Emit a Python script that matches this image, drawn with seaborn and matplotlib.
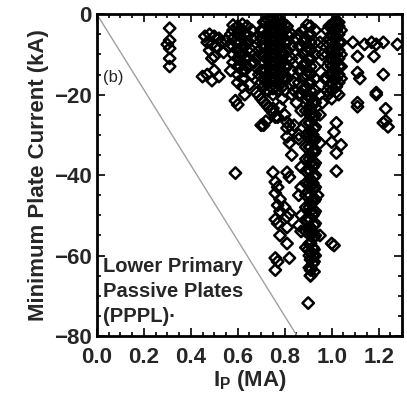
import matplotlib
matplotlib.use("Agg")
import matplotlib.pyplot as plt
from matplotlib.ticker import MultipleLocator, FormatStrFormatter
import seaborn as sns
import pandas as pd

# ---------------- data ----------------
ip_c1 = [0.31, 0.31, 0.30, 0.31, 0.31, 0.31]
ka_c1 = [-3.5, -6.5, -7.5, -8.5, -11, -13]

ip_c2 = [0.46, 0.48, 0.50, 0.52, 0.47, 0.49, 0.51, 0.53, 0.55, 0.48, 0.50, 0.49,
         0.47, 0.50, 0.52, 0.49, 0.54, 0.57, 0.56, 0.45]
ka_c2 = [-5.5, -5, -5.5, -6, -7, -7.5, -8, -7, -6.5, -9, -10.5, -11,
         -15, -14, -15.5, -16.5, -9.5, -5, -8, -15.5]

ip_c3 = [0.58, 0.58, 0.58, 0.58, 0.58,
         0.60, 0.60, 0.60, 0.60, 0.60, 0.60, 0.60, 0.60,
         0.62, 0.62, 0.62, 0.62, 0.62, 0.62, 0.62, 0.62, 0.62,
         0.64, 0.64, 0.64, 0.64, 0.64, 0.64,
         0.66, 0.66, 0.66, 0.66, 0.66,
         0.63, 0.65, 0.57, 0.58, 0.59, 0.60, 0.59,
         0.68, 0.69, 0.67, 0.70, 0.69, 0.68,
         0.61, 0.61, 0.61, 0.61, 0.63, 0.63, 0.63, 0.63]
ka_c3 = [-4, -6, -8, -10, -12,
         -3, -5, -7, -9, -11, -13, -15, -17,
         -2.5, -4, -6, -8, -10, -12, -14, -16, -18,
         -3, -5, -7, -9, -11, -13,
         -4, -6, -9, -12, -15,
         -20, -17.5, -14, -2.7, -21.5, -22.5, -39.5,
         -6, -9, -12, -4, -15, -11,
         -4, -7, -10, -13, -5, -8, -11, -14]

ip_c4 = [0.71, 0.71, 0.71, 0.71, 0.71, 0.71, 0.71, 0.71, 0.71,
         0.73, 0.73, 0.73, 0.73, 0.73, 0.73, 0.73, 0.73, 0.73, 0.73,
         0.75, 0.75, 0.75, 0.75, 0.75, 0.75, 0.75, 0.75, 0.75, 0.75, 0.75,
         0.77, 0.77, 0.77, 0.77, 0.77, 0.77, 0.77, 0.77, 0.77, 0.77,
         0.79, 0.79, 0.79, 0.79, 0.79, 0.79, 0.79, 0.79, 0.79,
         0.81, 0.81, 0.81, 0.81, 0.81, 0.81, 0.81,
         0.83, 0.83, 0.83, 0.83, 0.80, 0.85, 0.84,
         0.68, 0.69, 0.70, 0.71, 0.72, 0.73, 0.74, 0.75,
         0.70, 0.72, 0.76,
         0.75, 0.77, 0.81, 0.81, 0.84, 0.86, 0.71, 0.82, 0.81, 0.86, 0.82,
         0.83, 0.85, 0.87, 0.84, 0.79, 0.78, 0.80, 0.83]
ka_c4 = [-2, -4, -6, -8, -10, -12, -14, -16, -18,
         -1.5, -3, -5, -7, -9, -11, -13, -15, -17, -19,
         -1, -2.5, -4.5, -6.5, -8.5, -10.5, -12.5, -14.5, -16.5, -18.5, -20,
         -1, -3, -5, -7, -9, -11, -13, -15, -17, -19,
         -2, -4, -6, -8, -10, -12, -14, -16, -18,
         -3, -5, -7, -9, -11, -13, -16,
         -5, -8, -11, -14, -2.7, -6, -17,
         -19.5, -20.2, -21, -21.7, -22.4, -23.1, -23.8, -24.5,
         -27.6, -26.6, -25.6,
         -23.4, -25.6, -28.3, -26.8, -27.6, -30, -27.6, -27.6, -30.5, -31, -32,
         -20, -22, -24, -19, -21, -23, -25, -35]

ip_c4b = [0.75, 0.81, 0.82, 0.76, 0.77, 0.76, 0.78, 0.77, 0.78, 0.87, 0.86,
          0.81, 0.82, 0.81, 0.86, 0.87, 0.81, 0.76, 0.77, 0.82, 0.76,
          0.76, 0.77, 0.78, 0.80]
ka_c4b = [-39.3, -39.3, -40.5, -41.7, -43, -44.5, -46, -47.5, -49, -43, -45,
          -50.4, -49.5, -53, -52.5, -54, -57, -60.6, -61.5, -60.6, -63.6,
          -51, -52, -55, -48]

ip_c5 = [0.91] * 32 + [0.93] * 19 + [0.89] * 18 + \
        [0.87, 0.87, 0.87, 0.87, 0.87, 0.95, 0.95, 0.95, 0.95, 0.94, 0.95,
         0.90, 0.91, 0.91, 0.92, 0.90, 0.895, 0.96, 0.97, 0.96]
ka_c5 = [-3, -5, -7, -9, -11, -13, -15, -17, -19, -21, -23, -25, -27, -29, -31, -33,
         -35, -37, -39, -41, -43, -45, -47, -49, -51, -53, -55, -57, -59, -61, -63, -65,
         -4, -7, -10, -13, -16, -19, -22, -25, -28, -31, -34, -37, -40, -43, -46, -49,
         -52, -55, -60,
         -6, -9, -12, -15, -18, -21, -24, -27, -30, -33, -36, -39, -42, -45, -48, -51,
         -54, -58,
         -8, -14, -20, -38, -50, -7, -20, -25, -32, -45, -55,
         -71.8, -63.6, -65, -60, -58.5, -2.7, -10, -16, -22]

ip_c6 = [0.98] * 6 + [1.00] * 10 + [1.02] * 10 + [1.04] * 5 + \
        [1.02, 1.03, 1.02, 1.03, 1.02, 1.03, 1.02, 1.01, 1.00, 1.04, 1.02, 1.02,
         1.00, 1.01, 0.99]
ka_c6 = [-4, -7, -10, -13, -16, -19,
         -3, -5, -7, -9, -11, -13, -15, -17, -19, -21,
         -2, -3, -4, -6, -8, -10, -12, -14, -16, -18,
         -4, -7, -10, -13, -16,
         -2.5, -3, -3.5, -2, -19.4, -20, -27, -29.3, -31.8, -32.5, -34.5, -39,
         -57, -57.5, -19.7]

ip_c7 = [1.09, 1.14, 1.17, 1.19, 1.22, 1.28, 1.11, 1.18, 1.11, 1.12, 1.22,
         1.19, 1.11, 1.11, 1.23, 1.23, 1.24, 1.22, 1.19]
ka_c7 = [-7, -7.5, -7, -7.5, -7, -7.5, -10.5, -10.5, -14.5, -16, -15,
         -19.5, -22, -23, -23.5, -26.5, -28, -27, -20]

# densest shots (overlapping in the figure)
ip_c8 = [0.72] * 6 + [0.74] * 9 + [0.76] * 9 + [0.78] * 9 + [0.80] * 6 + \
        [0.70] * 4 + [0.86] * 6 + [0.88] * 6 + [0.90] * 6 + [0.92] * 11 + \
        [0.99] * 6 + [1.01] * 8 + [1.03] * 7
ka_c8 = [-2, -5, -8, -11, -14, -17,
         -2, -4, -6, -8, -10, -12, -14, -16, -18,
         -2, -4, -6, -8, -10, -12, -14, -16, -18,
         -1.5, -3.5, -5.5, -7.5, -9.5, -11.5, -13.5, -15.5, -17.5,
         -4, -7, -10, -13, -16, -19,
         -6, -10, -14, -17,
         -5, -8, -11, -14, -17, -20,
         -4, -7, -10, -13, -16, -19,
         -5, -8, -11, -14, -17, -20,
         -22, -26, -30, -34, -38, -42, -46, -50, -54, -58, -62,
         -3, -6, -9, -12, -15, -18,
         -2, -4, -6, -8, -10, -12, -14, -16,
         -5, -7, -9, -11, -13, -15, -17]

# the black column near 0.91 MA
ip_c9 = [0.905] * 14 + [0.925] * 14
ka_c9 = [-24, -27, -30, -33, -36, -39, -42, -45, -48, -51, -54, -57, -60, -63,
         -25.5, -28.5, -31.5, -34.5, -37.5, -40.5, -43.5, -46.5, -49.5, -52.5,
         -55.5, -58.5, -61.5, -64]

limit_ip = [0.0, 0.853]
limit_ka = [0.0, -80.0]

x_ticks = [0.0, 0.2, 0.4, 0.6, 0.8, 1.0, 1.2]
y_ticks = [0, -20, -40, -60, -80]

df = pd.DataFrame({
    "ip": ip_c1 + ip_c2 + ip_c3 + ip_c4 + ip_c4b + ip_c5 + ip_c6 + ip_c7 + ip_c8 + ip_c9,
    "ka": ka_c1 + ka_c2 + ka_c3 + ka_c4 + ka_c4b + ka_c5 + ka_c6 + ka_c7 + ka_c8 + ka_c9,
})

# ---------------- style ----------------
sns.set_style("ticks")
plt.rcParams["font.family"] = ["Liberation Sans", "DejaVu Sans"]
plt.rcParams["mathtext.fontset"] = "custom"
plt.rcParams["mathtext.rm"] = "Liberation Sans:bold"
plt.rcParams["mathtext.bf"] = "Liberation Sans:bold"
plt.rcParams["mathtext.it"] = "Liberation Sans:bold"

fig = plt.figure(figsize=(4.07, 3.94), dpi=100)
ax = fig.add_axes([0.238, 0.147, 0.750, 0.817])

ax.plot(limit_ip, limit_ka, color="#a0a0a0", lw=1.0, zorder=1)

sns.scatterplot(data=df, x="ip", y="ka", ax=ax, marker="D", s=34,
                facecolor="none", edgecolor="black", linewidth=1.8, zorder=3)

ax.set_xlim(0, 1.3)
ax.set_ylim(-80, 0)
ax.set_xticks(x_ticks)
ax.set_yticks(y_ticks)
ax.xaxis.set_major_formatter(FormatStrFormatter("%.1f"))
ax.xaxis.set_minor_locator(MultipleLocator(0.05))
ax.yaxis.set_minor_locator(MultipleLocator(5))
ax.tick_params(which="both", direction="in", top=True, right=True, width=1.2,
               color="black")
ax.tick_params(which="major", length=6, labelsize=16)
ax.tick_params(which="minor", length=3)
ax.tick_params(axis="x", which="major", pad=8)
ax.tick_params(axis="y", which="major", pad=4)
for lab in ax.get_xticklabels() + ax.get_yticklabels():
    lab.set_fontweight("bold")
for sp in ax.spines.values():
    sp.set_linewidth(2)
    sp.set_color("black")

ax.set_xlabel(r"$\mathrm{I_P}$ (MA)", fontsize=16, fontweight="bold", labelpad=0)
ax.set_ylabel("Minimum Plate Current (kA)", fontsize=16, fontweight="bold",
              labelpad=3)

ax.text(0.026, -15.7, "(b)", fontsize=12, va="center", ha="left")
ax.text(0.026, -60.3, "Lower Primary\nPassive Plates\n(PPPL)\u00b7", fontsize=14.5,
        fontweight="bold", va="top", ha="left", linespacing=1.4)

fig.savefig("out.png", dpi=100)
